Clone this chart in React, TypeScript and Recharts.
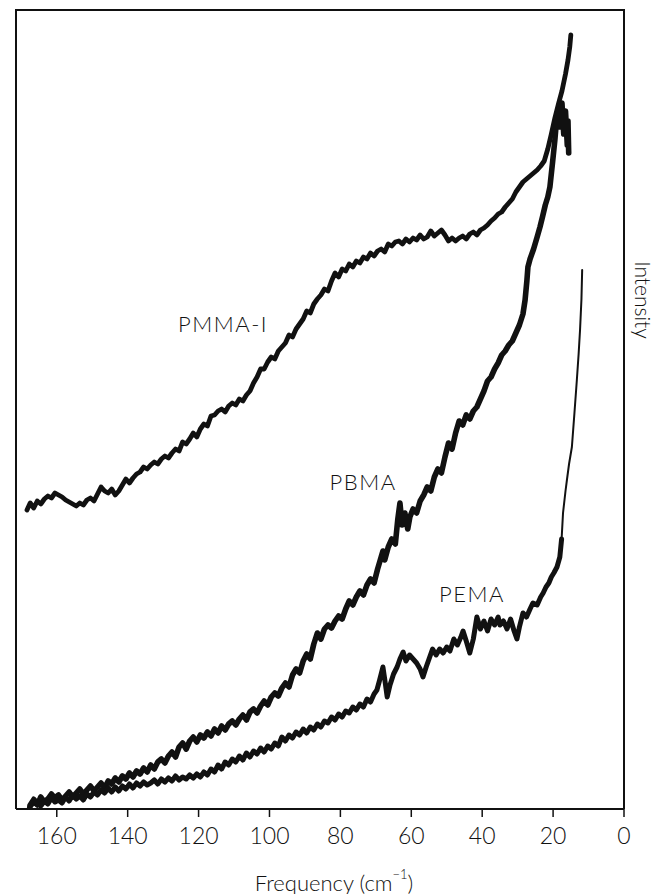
import React from 'react';
import {
  LineChart,
  Line,
  XAxis,
  YAxis,
  ReferenceDot
} from 'recharts';

// [frequency (cm-1), intensity] pairs, high frequency first
const pmmaPoints: [number, number][] = [
  [168.4, 299], [167.5, 306], [166.5, 301], [165.5, 308], [164.5, 305], [163.5, 310],
  [162.5, 313], [161.5, 311], [160.5, 316], [159.5, 314], [158.5, 312], [157.5, 309],
  [156.5, 307], [155.5, 305], [154.5, 303], [153.5, 306], [152.5, 304], [151.5, 309],
  [150.5, 311], [149.5, 308], [148.5, 315], [147.5, 322], [146.5, 318], [145.5, 316],
  [144.5, 320], [143.5, 314], [142.5, 318], [141.5, 324], [140.5, 330], [139.5, 326],
  [138.5, 331], [137.5, 335], [136.5, 337], [135.5, 342], [134.5, 340], [133.5, 344],
  [132.5, 347], [131.5, 345], [130.5, 350], [129.5, 353], [128.5, 351], [127.5, 356],
  [126.5, 360], [125.5, 358], [124.5, 367], [123.5, 365], [122.5, 370], [121.5, 376],
  [120.5, 372], [119.5, 380], [118.5, 385], [117.5, 383], [116.5, 393], [115.5, 394],
  [114.5, 398], [113.5, 400], [112.5, 397], [111.5, 403], [110.5, 406], [109.5, 404],
  [108.5, 410], [107.5, 408], [106.5, 414], [105.5, 418], [104.5, 426], [103.5, 432],
  [102.5, 440], [101.5, 440], [100.5, 447], [99.5, 452], [98.5, 450], [97.5, 458],
  [96.5, 462], [95.5, 466], [94.5, 474], [93.5, 472], [92.5, 480], [91.5, 485],
  [90.5, 490], [89.5, 498], [88.5, 496], [87.5, 505], [86.5, 510], [85.5, 514],
  [84.5, 520], [83.5, 518], [82.5, 528], [81.5, 536], [80.5, 532], [79.5, 540],
  [78.5, 538], [77.5, 545], [76.5, 542], [75.5, 548], [74.5, 546], [73.5, 552],
  [72.5, 550], [71.5, 556], [70.5, 553], [69.5, 558], [68.5, 560], [67.5, 557],
  [66.5, 565], [65.5, 563], [64.5, 567], [63.5, 568], [62.5, 565], [61.5, 570],
  [60.5, 567], [59.5, 571], [58.5, 569], [57.5, 574], [56.5, 570], [55.5, 572],
  [54.5, 578], [53.5, 573], [52.5, 576], [51.5, 579], [50.5, 574], [49.5, 568],
  [48.5, 571], [47.5, 568], [46.5, 571], [45.5, 573], [44.5, 570], [43.5, 575],
  [42.5, 577], [41.5, 574], [40.5, 579], [39.5, 581], [38.5, 584], [37.5, 588],
  [36.5, 591], [35.5, 595], [34.5, 597], [33.5, 602], [32.5, 606], [31.5, 610],
  [30.5, 617], [29.5, 622], [28.5, 627], [27.5, 630], [26.5, 633], [25.5, 636],
  [24.5, 639], [23.5, 643], [22.5, 648], [21.5, 660], [20.5, 675], [19.5, 691],
  [18.5, 705], [17.5, 718], [16.5, 735], [15.8, 749], [15.3, 762], [15.0, 774]
];

const pbmaPoints: [number, number][] = [
  [167.6, 2], [166.5, 8], [165.5, 4], [164.5, 12], [163.5, 7], [162.5, 10],
  [161.5, 15], [160.5, 11], [159.5, 14], [158.5, 9], [157.5, 13], [156.5, 17],
  [155.5, 12], [154.5, 16], [153.5, 20], [152.5, 15], [151.5, 19], [150.5, 23],
  [149.5, 18], [148.5, 22], [147.5, 26], [146.5, 21], [145.5, 28], [144.5, 25],
  [143.5, 31], [142.5, 27], [141.5, 33], [140.5, 30], [139.5, 36], [138.5, 32],
  [137.5, 38], [136.5, 35], [135.5, 41], [134.5, 37], [133.5, 44], [132.5, 40],
  [131.5, 47], [130.5, 50], [129.5, 46], [128.5, 53], [127.5, 57], [126.5, 52],
  [125.5, 62], [124.5, 66], [123.5, 60], [122.5, 68], [121.5, 72], [120.5, 67],
  [119.5, 74], [118.5, 71], [117.5, 77], [116.5, 73], [115.5, 80], [114.5, 76],
  [113.5, 83], [112.5, 79], [111.5, 85], [110.5, 88], [109.5, 84], [108.5, 90],
  [107.5, 94], [106.5, 89], [105.5, 97], [104.5, 100], [103.5, 96], [102.5, 103],
  [101.5, 108], [100.5, 104], [99.5, 112], [98.5, 116], [97.5, 113], [96.5, 121],
  [95.5, 126], [94.5, 122], [93.5, 134], [92.5, 140], [91.5, 136], [90.5, 148],
  [89.5, 155], [88.5, 150], [87.5, 165], [86.5, 176], [85.5, 170], [84.5, 180],
  [83.5, 184], [82.5, 181], [81.5, 188], [80.5, 193], [79.5, 190], [78.5, 200],
  [77.5, 208], [76.5, 204], [75.5, 212], [74.5, 218], [73.5, 214], [72.5, 224],
  [71.5, 230], [70.5, 226], [69.5, 240], [68.5, 252], [68.0, 258], [67.5, 249],
  [66.5, 262], [65.5, 270], [64.5, 265], [63.8, 290], [63.2, 306], [62.6, 284],
  [61.8, 296], [61.0, 280], [60.4, 292], [59.5, 300], [58.5, 296], [57.5, 308],
  [56.5, 314], [55.5, 322], [54.5, 318], [53.5, 332], [52.5, 340], [51.5, 336],
  [50.5, 352], [49.5, 366], [48.5, 360], [47.5, 376], [46.5, 388], [45.5, 384],
  [44.5, 394], [43.5, 390], [42.5, 398], [41.5, 402], [40.5, 410], [39.5, 418],
  [38.5, 428], [37.5, 432], [36.5, 440], [35.5, 446], [34.5, 454], [33.5, 458],
  [32.5, 464], [31.5, 468], [30.5, 476], [29.5, 484], [28.5, 495], [27.9, 509],
  [27.4, 528], [27.1, 542], [26.5, 550], [25.5, 560], [24.5, 572], [23.7, 582],
  [23.0, 592], [22.2, 604], [21.5, 612], [20.9, 622], [20.2, 645], [19.5, 669],
  [19.0, 690], [18.5, 700], [18.0, 682], [17.5, 706], [17.0, 675], [16.5, 698],
  [16.0, 664], [15.8, 688], [15.6, 656]
];

const pemaPoints: [number, number][] = [
  [167.6, 4], [166.5, 10], [165.5, 6], [164.5, 3], [163.5, 8], [162.5, 5],
  [161.5, 11], [160.5, 7], [159.5, 9], [158.5, 6], [157.5, 12], [156.5, 8],
  [155.5, 14], [154.5, 10], [153.5, 13], [152.5, 9], [151.5, 15], [150.5, 12],
  [149.5, 17], [148.5, 14], [147.5, 19], [146.5, 16], [145.5, 21], [144.5, 17],
  [143.5, 22], [142.5, 18], [141.5, 23], [140.5, 20], [139.5, 25], [138.5, 21],
  [137.5, 26], [136.5, 23], [135.5, 27], [134.5, 24], [133.5, 26], [132.5, 29],
  [131.5, 25], [130.5, 30], [129.5, 27], [128.5, 31], [127.5, 28], [126.5, 33],
  [125.5, 29], [124.5, 32], [123.5, 30], [122.5, 34], [121.5, 31], [120.5, 35],
  [119.5, 32], [118.5, 37], [117.5, 34], [116.5, 40], [115.5, 37], [114.5, 44],
  [113.5, 40], [112.5, 47], [111.5, 44], [110.5, 50], [109.5, 47], [108.5, 53],
  [107.5, 49], [106.5, 56], [105.5, 52], [104.5, 58], [103.5, 55], [102.5, 61],
  [101.5, 57], [100.5, 63], [99.5, 60], [98.5, 66], [97.5, 63], [96.5, 72],
  [95.5, 68], [94.5, 74], [93.5, 71], [92.5, 77], [91.5, 74], [90.5, 80],
  [89.5, 76], [88.5, 82], [87.5, 79], [86.5, 85], [85.5, 82], [84.5, 88],
  [83.5, 86], [82.5, 92], [81.5, 89], [80.5, 95], [79.5, 92], [78.5, 98],
  [77.5, 96], [76.5, 102], [75.5, 99], [74.5, 105], [73.5, 102], [72.5, 110],
  [71.5, 107], [70.5, 115], [69.7, 119], [69.0, 128], [68.0, 142], [67.5, 130],
  [66.8, 112], [66.0, 124], [65.0, 135], [64.0, 142], [63.2, 150], [62.3, 157],
  [61.5, 148], [60.5, 154], [59.5, 150], [58.5, 146], [57.5, 140], [56.7, 132],
  [55.8, 142], [55.0, 150], [54.0, 160], [53.0, 154], [52.0, 160], [51.0, 156],
  [50.0, 162], [49.1, 158], [48.0, 170], [47.0, 164], [46.0, 172], [45.4, 178],
  [44.5, 168], [43.5, 156], [42.5, 170], [41.5, 192], [40.5, 180], [39.5, 188],
  [38.5, 178], [37.5, 190], [36.5, 184], [35.5, 192], [35.0, 184], [34.0, 188],
  [33.0, 180], [32.0, 190], [31.0, 178], [30.2, 170], [29.5, 182], [28.5, 196],
  [27.5, 192], [26.5, 200], [25.7, 206], [24.5, 204], [23.5, 212], [22.8, 216],
  [22.0, 222], [21.2, 226], [20.5, 232], [19.8, 236], [18.9, 242], [18.1, 252],
  [17.6, 270]
];

// steep, thinly traced end of the PEMA trace
const pemaTailPoints: [number, number][] = [
  [17.6, 270], [17.2, 296], [16.5, 318], [16.1, 329], [15.5, 345], [14.7, 362],
  [14.0, 395], [13.3, 429], [12.8, 455], [12.4, 479], [12.0, 510], [11.8, 539]
];

const freqTicks = [160, 140, 120, 100, 80, 60, 40, 20, 0];
const freqDomain: [number, number] = [0, 171.5];
const intensityDomain: [number, number] = [0, 799];

// curve names and where they sit on the plot (frequency, intensity)
const curveLabels = [
  { text: 'PMMA-I', f: 113.1, v: 486 },
  { text: 'PBMA', f: 73.6, v: 328 },
  { text: 'PEMA', f: 42.9, v: 216 }
];

const toRows = (pts: [number, number][]) => pts.map(([f, v]) => ({ f, v }));

const FONT = 'Lato, "DejaVu Sans", sans-serif';
const INK = '#111';

// chart box and the space kept round the plot
const WIDTH = 656;
const HEIGHT = 894;
const MARGIN = { top: 10, right: 0, bottom: 30, left: 0 };
const LEFT_AXIS_W = 16;
const RIGHT_AXIS_W = 32;
const X_AXIS_H = 55;
const FRAME_W = 2;

const FreqTick = ({ x, y, payload }: any) => (
  <text
    x={x}
    y={y + 16}
    textAnchor="middle"
    dominantBaseline="central"
    fontFamily={FONT}
    fontWeight={300}
    fontSize={23}
    fill={INK}
  >
    {payload.value}
  </text>
);

const FreqTitle = ({ viewBox }: any) => {
  const cx = viewBox.x + viewBox.width / 2 + 14;
  return (
    <text
      x={cx}
      y={viewBox.y + 73}
      textAnchor="middle"
      dominantBaseline="central"
      fontFamily={FONT}
      fontWeight={300}
      fontSize={22}
      fill={INK}
    >
      Frequency (cm
      <tspan fontSize={13} dy={-8}>−1</tspan>
      <tspan dy={8}>)</tspan>
    </text>
  );
};

const IntensityTitle = ({ viewBox }: any) => {
  const x = viewBox.x + 19;
  const y = 300;
  return (
    <text
      x={x}
      y={y}
      transform={`rotate(90, ${x}, ${y})`}
      textAnchor="middle"
      dominantBaseline="central"
      fontFamily={FONT}
      fontWeight={300}
      fontSize={21}
      fill={INK}
    >
      Intensity
    </text>
  );
};

export default function App() {
  const lineProps = {
    type: 'linear' as const,
    dataKey: 'v',
    stroke: INK,
    dot: false,
    isAnimationActive: false,
    strokeLinejoin: 'round' as const,
    strokeLinecap: 'round' as const
  };

  // plot area edges, from the margins and axis sizes above
  const plotLeft = MARGIN.left + LEFT_AXIS_W;
  const plotTop = MARGIN.top;
  const plotRight = WIDTH - MARGIN.right - RIGHT_AXIS_W;
  const plotBottom = HEIGHT - MARGIN.bottom - X_AXIS_H;

  return (
    <div style={{ position: 'absolute', left: 0, top: 0, width: WIDTH, height: HEIGHT }}>
      <LineChart width={WIDTH} height={HEIGHT} margin={MARGIN}>
        <XAxis
          dataKey="f"
          type="number"
          domain={freqDomain}
          reversed
          ticks={freqTicks}
          interval={0}
          height={X_AXIS_H}
          tickSize={8}
          tickLine={{ stroke: INK, strokeWidth: 1.5 }}
          axisLine={{ stroke: INK, strokeWidth: 1.8 }}
          tick={<FreqTick />}
          label={{ content: <FreqTitle /> }}
        />
        <YAxis
          type="number"
          domain={intensityDomain}
          width={LEFT_AXIS_W}
          tick={false}
          tickLine={false}
          axisLine={false}
        />
        <YAxis
          yAxisId="right"
          orientation="right"
          type="number"
          domain={intensityDomain}
          width={RIGHT_AXIS_W}
          tick={false}
          tickLine={false}
          axisLine={false}
          label={{ content: <IntensityTitle /> }}
        />

        <Line {...lineProps} data={toRows(pmmaPoints)} strokeWidth={4.8} />
        <Line {...lineProps} data={toRows(pbmaPoints)} strokeWidth={5.6} />
        <Line {...lineProps} data={toRows(pemaPoints)} strokeWidth={5} />
        <Line {...lineProps} data={toRows(pemaTailPoints)} strokeWidth={2} />

        {curveLabels.map((c) => (
          <ReferenceDot
            key={c.text}
            x={c.f}
            y={c.v}
            r={0}
            shape={(p: any) => (
              <text
                x={p.cx}
                y={p.cy}
                textAnchor="middle"
                dominantBaseline="central"
                fontFamily={FONT}
                fontWeight={300}
                fontSize={22}
                letterSpacing={1.5}
                fill={INK}
              >
                {c.text}
              </text>
            )}
          />
        ))}
      </LineChart>

      {/* left, top and right sides of the plot box */}
      <div
        style={{
          position: 'absolute',
          boxSizing: 'border-box',
          left: plotLeft - FRAME_W / 2,
          top: plotTop - FRAME_W / 2,
          width: plotRight - plotLeft + FRAME_W,
          height: plotBottom - plotTop + FRAME_W / 2,
          borderLeft: `${FRAME_W}px solid ${INK}`,
          borderRight: `${FRAME_W}px solid ${INK}`,
          borderTop: `${FRAME_W}px solid ${INK}`,
          pointerEvents: 'none'
        }}
      />
    </div>
  );
}
